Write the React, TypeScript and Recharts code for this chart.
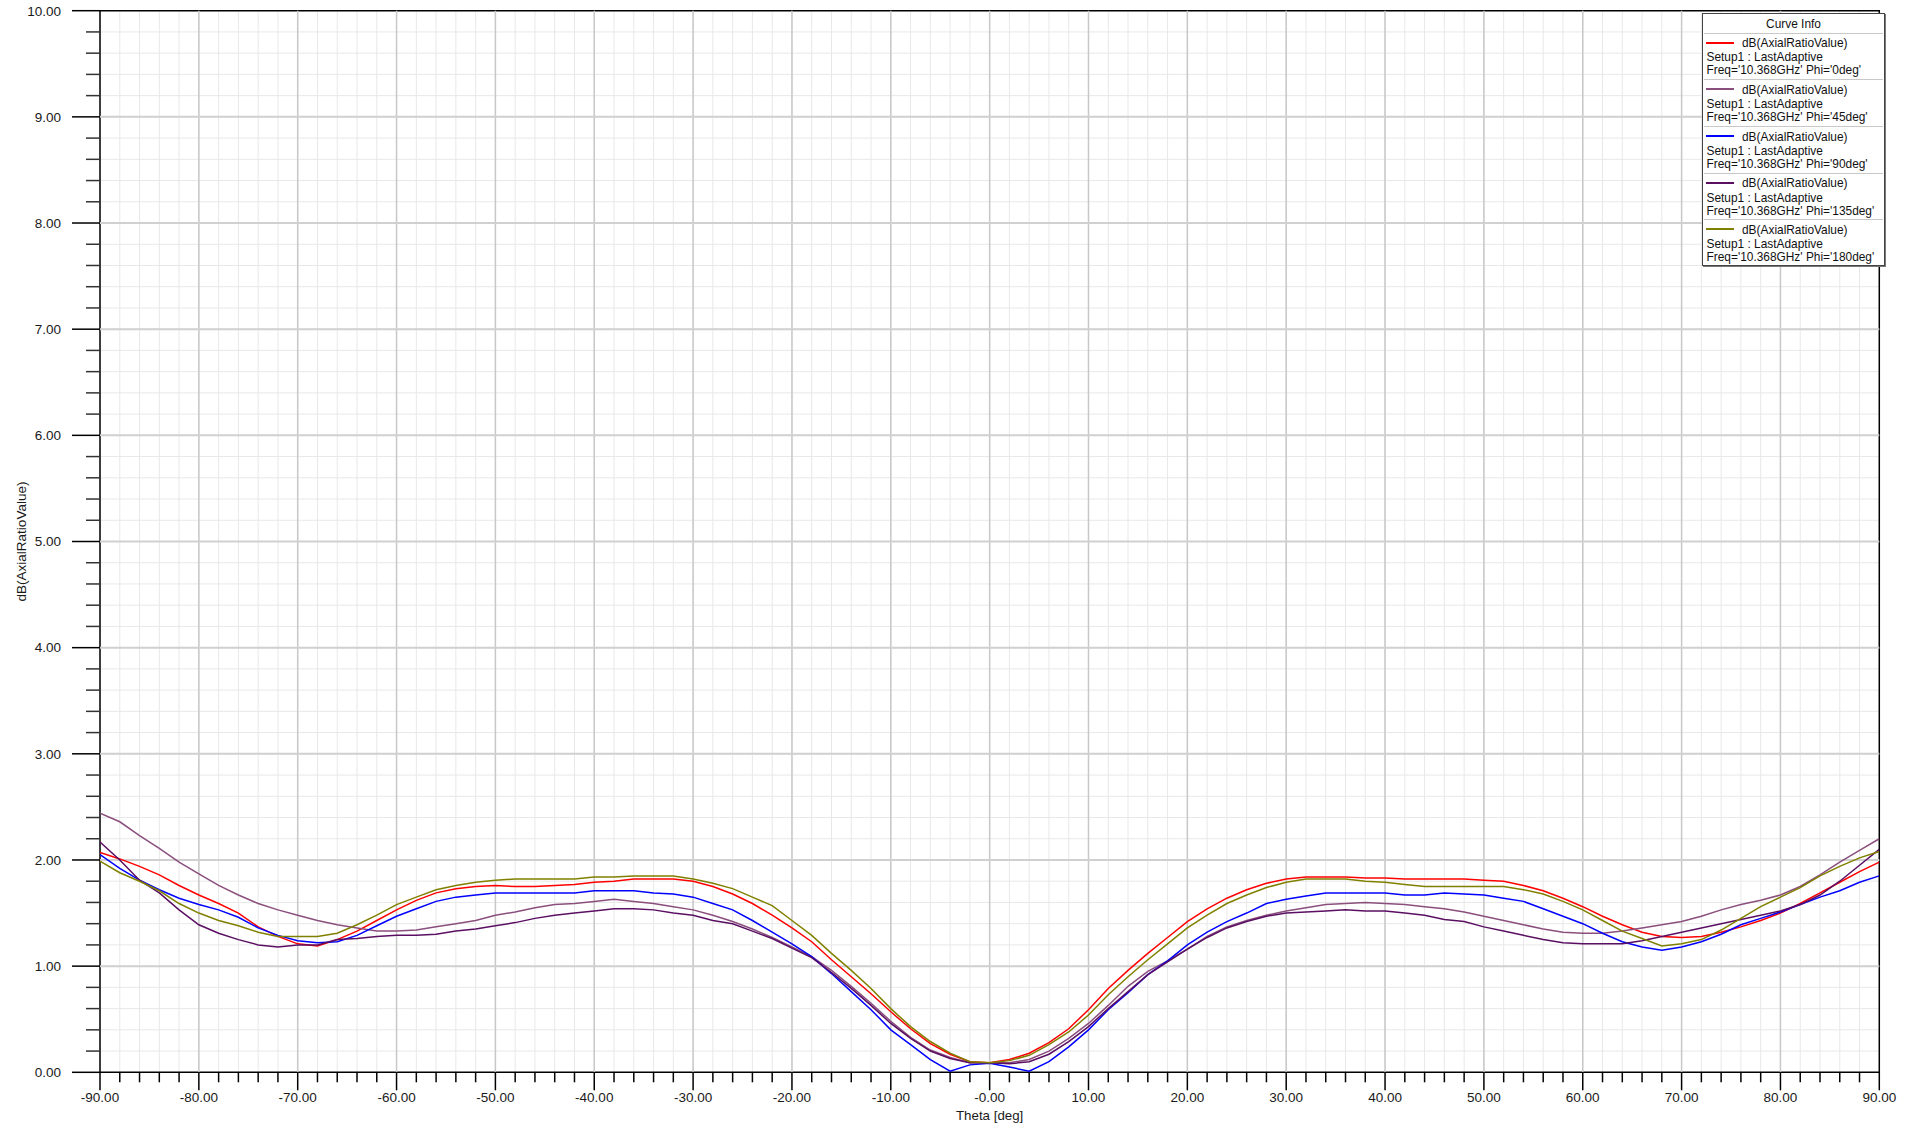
import React from 'react';
import { LineChart, Line, XAxis, YAxis, CartesianGrid, ReferenceLine, ReferenceArea } from 'recharts';

const FONT = '"Liberation Sans", Arial, Helvetica, sans-serif';

// Theta samples (deg)
const theta: number[] = [
  -90, -88, -86, -84, -82, -80, -78, -76, -74, -72, -70, -68, -66, -64, -62, -60, -58, -56, -54, -52, -50, -48, -46,
  -44, -42, -40, -38, -36, -34, -32, -30, -28, -26, -24, -22, -20, -18, -16, -14, -12, -10, -8, -6, -4, -2,
  0, 2, 4, 6, 8, 10, 12, 14, 16, 18, 20, 22, 24, 26, 28, 30, 32, 34, 36, 38, 40, 42, 44,
  46, 48, 50, 52, 54, 56, 58, 60, 62, 64, 66, 68, 70, 72, 74, 76, 78, 80, 82, 84, 86, 88, 90,
];

// Phi = 0deg
const phi0: number[] = [
  2.07, 2.01, 1.94, 1.86, 1.76, 1.67, 1.59, 1.50, 1.37, 1.28, 1.21, 1.19, 1.25, 1.33, 1.43, 1.53, 1.62, 1.69, 1.73, 1.75, 1.76, 1.75, 1.75,
  1.76, 1.77, 1.79, 1.80, 1.82, 1.82, 1.82, 1.80, 1.75, 1.68, 1.59, 1.48, 1.36, 1.23, 1.06, 0.90, 0.74, 0.57, 0.41, 0.27, 0.17, 0.10,
  0.09, 0.12, 0.18, 0.28, 0.41, 0.59, 0.79, 0.96, 1.12, 1.27, 1.42, 1.54, 1.64, 1.72, 1.78, 1.82, 1.84, 1.84, 1.84, 1.83, 1.83, 1.82, 1.82,
  1.82, 1.82, 1.81, 1.80, 1.76, 1.71, 1.64, 1.56, 1.47, 1.39, 1.32, 1.28, 1.27, 1.28, 1.32, 1.37, 1.43, 1.50, 1.59, 1.69, 1.79, 1.89, 1.98,
];

// Phi = 45deg
const phi45: number[] = [
  2.44, 2.36, 2.23, 2.11, 1.98, 1.87, 1.76, 1.67, 1.59, 1.53, 1.48, 1.43, 1.39, 1.36, 1.33, 1.33, 1.34, 1.37, 1.40, 1.43, 1.48, 1.51, 1.55,
  1.58, 1.59, 1.61, 1.63, 1.61, 1.59, 1.56, 1.53, 1.48, 1.42, 1.35, 1.27, 1.18, 1.09, 0.96, 0.81, 0.65, 0.48, 0.33, 0.21, 0.14, 0.09,
  0.09, 0.09, 0.12, 0.20, 0.32, 0.46, 0.63, 0.81, 0.95, 1.05, 1.16, 1.28, 1.37, 1.43, 1.48, 1.52, 1.55, 1.58, 1.59, 1.60, 1.59, 1.58, 1.56,
  1.54, 1.51, 1.47, 1.43, 1.39, 1.35, 1.32, 1.31, 1.31, 1.33, 1.36, 1.39, 1.42, 1.47, 1.53, 1.58, 1.62, 1.67, 1.75, 1.86, 1.98, 2.09, 2.20,
];

// Phi = 90deg
const phi90: number[] = [
  2.05, 1.92, 1.81, 1.72, 1.64, 1.58, 1.53, 1.46, 1.36, 1.29, 1.24, 1.22, 1.23, 1.29, 1.38, 1.47, 1.54, 1.61, 1.65, 1.67, 1.69, 1.69, 1.69,
  1.69, 1.69, 1.71, 1.71, 1.71, 1.69, 1.68, 1.65, 1.59, 1.53, 1.43, 1.32, 1.21, 1.09, 0.93, 0.76, 0.59, 0.40, 0.26, 0.12, 0.01, 0.07,
  0.085, 0.05, 0.01, 0.10, 0.24, 0.40, 0.59, 0.75, 0.92, 1.05, 1.20, 1.32, 1.42, 1.50, 1.59, 1.63, 1.66, 1.69, 1.69, 1.69, 1.69, 1.67, 1.67,
  1.69, 1.68, 1.67, 1.64, 1.61, 1.54, 1.47, 1.40, 1.31, 1.23, 1.18, 1.15, 1.18, 1.23, 1.30, 1.39, 1.45, 1.51, 1.58, 1.65, 1.71, 1.79, 1.85,
];

// Phi = 135deg
const phi135: number[] = [
  2.17, 2.00, 1.81, 1.69, 1.53, 1.39, 1.31, 1.25, 1.20, 1.18, 1.20, 1.20, 1.25, 1.26, 1.28, 1.29, 1.29, 1.30, 1.33, 1.35, 1.38, 1.41, 1.45,
  1.48, 1.50, 1.52, 1.54, 1.54, 1.53, 1.50, 1.48, 1.43, 1.40, 1.33, 1.26, 1.17, 1.08, 0.94, 0.79, 0.63, 0.46, 0.32, 0.20, 0.13, 0.09,
  0.09, 0.08, 0.10, 0.17, 0.29, 0.43, 0.60, 0.76, 0.92, 1.04, 1.16, 1.27, 1.36, 1.42, 1.47, 1.50, 1.51, 1.52, 1.53, 1.52, 1.52, 1.50, 1.48,
  1.44, 1.42, 1.37, 1.33, 1.29, 1.25, 1.22, 1.21, 1.21, 1.21, 1.24, 1.28, 1.32, 1.36, 1.40, 1.44, 1.48, 1.52, 1.58, 1.67, 1.80, 1.95, 2.10,
];

// Phi = 180deg
const phi180: number[] = [
  1.99, 1.88, 1.80, 1.71, 1.59, 1.50, 1.43, 1.38, 1.32, 1.28, 1.28, 1.28, 1.31, 1.39, 1.48, 1.58, 1.65, 1.72, 1.76, 1.79, 1.81, 1.82, 1.82,
  1.82, 1.82, 1.84, 1.84, 1.85, 1.85, 1.85, 1.82, 1.78, 1.73, 1.65, 1.57, 1.43, 1.29, 1.12, 0.96, 0.79, 0.60, 0.43, 0.29, 0.18, 0.10,
  0.09, 0.11, 0.16, 0.26, 0.38, 0.54, 0.73, 0.90, 1.06, 1.21, 1.36, 1.48, 1.59, 1.67, 1.74, 1.79, 1.82, 1.82, 1.82, 1.80, 1.79, 1.77, 1.75,
  1.75, 1.75, 1.75, 1.75, 1.72, 1.68, 1.61, 1.53, 1.43, 1.33, 1.26, 1.19, 1.21, 1.25, 1.34, 1.45, 1.56, 1.65, 1.74, 1.85, 1.94, 2.02, 2.08,
];

const xMajorTicks: number[] = [-90, -80, -70, -60, -50, -40, -30, -20, -10, 0, 10, 20, 30, 40, 50, 60, 70, 80, 90];
const xTickLabels: string[] = [
  '-90.00', '-80.00', '-70.00', '-60.00', '-50.00', '-40.00', '-30.00', '-20.00', '-10.00', '-0.00',
  '10.00', '20.00', '30.00', '40.00', '50.00', '60.00', '70.00', '80.00', '90.00',
];
const yMajorTicks: number[] = [0, 1, 2, 3, 4, 5, 6, 7, 8, 9, 10];
const yTickLabels: string[] = ['0.00', '1.00', '2.00', '3.00', '4.00', '5.00', '6.00', '7.00', '8.00', '9.00', '10.00'];

const xTicks: number[] = Array.from({ length: 91 }, (_, i) => -90 + i * 2);
const yTicks: number[] = Array.from({ length: 51 }, (_, i) => +(i * 0.2).toFixed(1));

const series = [
  { key: 'phi0', color: '#ff0000', values: phi0, label: "Freq='10.368GHz' Phi='0deg'" },
  { key: 'phi45', color: '#8a4f7d', values: phi45, label: "Freq='10.368GHz' Phi='45deg'" },
  { key: 'phi90', color: '#0000ff', values: phi90, label: "Freq='10.368GHz' Phi='90deg'" },
  { key: 'phi135', color: '#5a0f62', values: phi135, label: "Freq='10.368GHz' Phi='135deg'" },
  { key: 'phi180', color: '#808000', values: phi180, label: "Freq='10.368GHz' Phi='180deg'" },
];

const data = theta.map((t, i) => {
  const row: Record<string, number> = { theta: t };
  series.forEach((s) => {
    row[s.key] = s.values[i];
  });
  return row;
});

function XTick(props: any) {
  const { x, y, payload } = props;
  const v = payload.value as number;
  const idx = xMajorTicks.indexOf(v);
  const major = idx >= 0;
  return (
    <g>
      <line x1={x} x2={x} y1={y} y2={y + (major ? 18 : 10)} stroke="#000" strokeWidth={1.5} />
      {major && (
        <text x={x} y={y + 30} textAnchor="middle" fontSize={13.5} fontFamily={FONT} fill="#1a1a1a">
          {xTickLabels[idx]}
        </text>
      )}
    </g>
  );
}

function YTick(props: any) {
  const { x, y, payload } = props;
  const v = payload.value as number;
  const r = Math.round(v);
  const major = Math.abs(v - r) < 1e-6;
  const idx = yMajorTicks.indexOf(r);
  return (
    <g>
      <line x1={x - (major ? 28 : 14)} x2={x} y1={y} y2={y} stroke={major ? '#000' : '#333'} strokeWidth={1.5} />
      {major && (
        <text x={x - 39} y={y + 4.8} textAnchor="end" fontSize={13.5} fontFamily={FONT} fill="#1a1a1a">
          {yTickLabels[idx]}
        </text>
      )}
    </g>
  );
}

function YTitle(props: any) {
  const vb = props.viewBox || { x: 0, y: 0, width: 0, height: 0 };
  const cx = vb.x + 21;
  const cy = vb.y + vb.height / 2;
  return (
    <text
      x={cx}
      y={cy}
      transform={`rotate(-90 ${cx} ${cy})`}
      textAnchor="middle"
      dominantBaseline="central"
      fontSize={13.5}
      fontFamily={FONT}
      fill="#1a1a1a"
    >
      dB(AxialRatioValue)
    </text>
  );
}

function XTitle(props: any) {
  const vb = props.viewBox || { x: 0, y: 0, width: 0, height: 0 };
  const cx = vb.x + vb.width / 2;
  return (
    <text x={cx} y={vb.y + 47.5} textAnchor="middle" fontSize={13.3} fontFamily={FONT} fill="#1a1a1a">
      Theta [deg]
    </text>
  );
}

function CurveLegend() {
  const left = 1702;
  const top = 12.7;
  const width = 183;
  const titleH = 20;
  const entryH = 46.7;
  const textStyle: React.CSSProperties = {
    position: 'absolute',
    fontSize: 11.9,
    lineHeight: '13px',
    fontFamily: FONT,
    color: '#111',
    whiteSpace: 'nowrap',
  };
  return (
    <div
      style={{
        position: 'absolute',
        left,
        top,
        width,
        height: titleH + entryH * 5,
        background: '#fff',
        border: '1px solid #444',
        boxShadow: '1px 1px 0 #777',
        boxSizing: 'border-box',
        zIndex: 5,
      }}
    >
      <div style={{ ...textStyle, left: 0, width: '100%', textAlign: 'center', top: 11.3 - 6.5 }}>Curve Info</div>
      {series.map((s, i) => {
        const et = titleH + i * entryH - 1;
        return (
          <div key={s.key}>
            <div style={{ position: 'absolute', left: 1, right: 1, top: et, height: 0, borderTop: '1.5px solid #c8c8c8' }} />
            <div style={{ position: 'absolute', left: 3, width: 28, top: et + 9, height: 2, background: s.color }} />
            <div style={{ ...textStyle, left: 39, top: et + 10 - 5.5 }}>dB(AxialRatioValue)</div>
            <div style={{ ...textStyle, left: 3.5, top: et + 24.3 - 5.5 }}>Setup1 : LastAdaptive</div>
            <div style={{ ...textStyle, left: 3.5, top: et + 37.3 - 5.5 }}>{s.label}</div>
          </div>
        );
      })}
    </div>
  );
}

export default function App() {
  return (
    <div style={{ position: 'absolute', left: 0, top: 0, width: 1914, height: 1125, background: '#fff', overflow: 'hidden' }}>
      <LineChart width={1914} height={1125} data={data} margin={{ top: 10.7, right: 34.7, bottom: 0, left: 0 }}>
        <CartesianGrid stroke="#e8e8e8" strokeWidth={1} />
        <XAxis
          dataKey="theta"
          type="number"
          domain={[-90, 90]}
          ticks={xTicks}
          interval={0}
          tick={<XTick />}
          tickSize={0}
          tickMargin={0}
          tickLine={false}
          axisLine={false}
          height={52.7}
          allowDataOverflow
          label={<XTitle />}
        />
        <YAxis
          type="number"
          domain={[0, 10]}
          ticks={yTicks}
          interval={0}
          tick={<YTick />}
          tickSize={0}
          tickMargin={0}
          tickLine={false}
          axisLine={false}
          width={100}
          allowDataOverflow
          label={<YTitle />}
        />
        {xMajorTicks.slice(1, -1).map((v) => (
          <ReferenceLine key={`vx${v}`} x={v} stroke="#c8c8c8" strokeWidth={1.5} />
        ))}
        {yMajorTicks.slice(1, -1).map((v) => (
          <ReferenceLine key={`hy${v}`} y={v} stroke="#d0d0d0" strokeWidth={2} />
        ))}
        <ReferenceArea x1={-90} x2={90} y1={0} y2={10} fill="none" stroke="#000" strokeWidth={1.5} />
        {series.map((s) => (
          <Line
            key={s.key}
            dataKey={s.key}
            type="linear"
            stroke={s.color}
            strokeWidth={1.5}
            dot={false}
            activeDot={false}
            isAnimationActive={false}
          />
        ))}
      </LineChart>
      <CurveLegend />
    </div>
  );
}
